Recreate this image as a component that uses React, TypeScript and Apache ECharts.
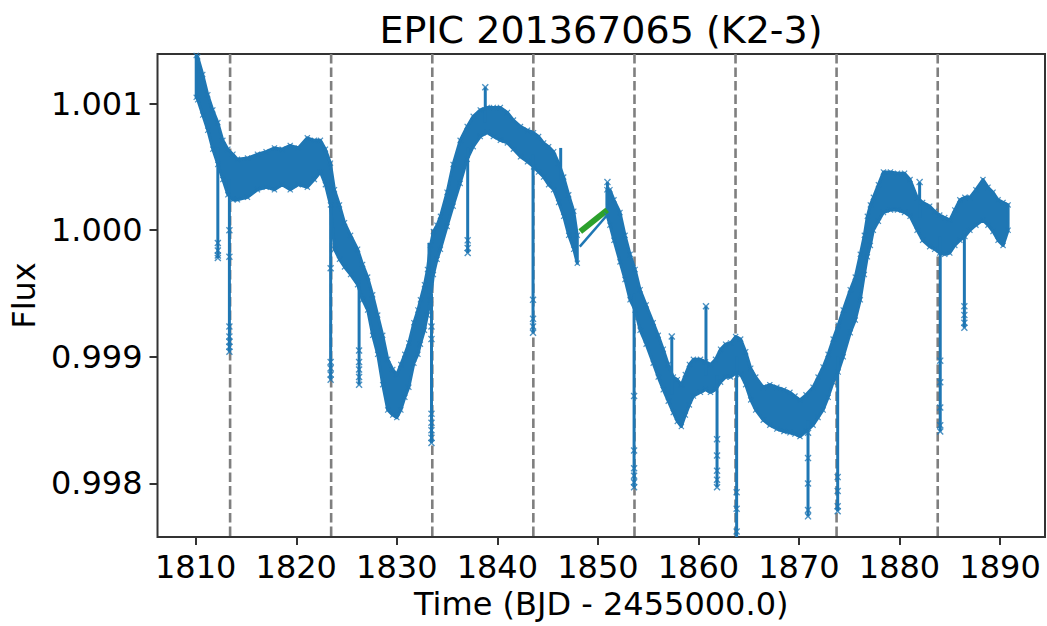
import React, { useEffect, useRef } from "react";
import * as echarts from "echarts";

const FONT = "DejaVu Sans";
const BLUE = "#1f77b4";
const GREEN = "#2ca02c";

const X_MIN = 1806.2;
const X_MAX = 1894.47;
const Y_MIN = 0.997577;
const Y_MAX = 1.001392;

const xTicks = [1810, 1820, 1830, 1840, 1850, 1860, 1870, 1880, 1890];
const yTicks = [0.998, 0.999, 1.0, 1.001];

const transitTimes = [1813.42, 1823.47, 1833.53, 1843.58, 1853.64, 1863.69, 1873.74, 1883.8];

// first continuous stretch of the light curve (band envelope)
const bandTime1 = [
  1810.05, 1810.2, 1810.7, 1811.2, 1811.7, 1812.2, 1812.7, 1813.2, 1813.7, 1814.15,
  1815.15, 1816.14, 1817.0, 1817.83, 1818.6, 1819.4, 1820.2, 1821.1, 1821.8, 1822.4,
  1822.9, 1823.4, 1823.8, 1824.3, 1824.8, 1825.4, 1826.1, 1826.6, 1827.1, 1827.6,
  1828.1, 1828.6, 1829.1, 1829.6, 1830.0, 1830.4, 1830.8, 1831.2, 1831.7, 1832.1,
  1832.35, 1832.75, 1833.05, 1833.35, 1833.64, 1834.0, 1834.34, 1835.0, 1835.6, 1836.3,
  1837.0, 1837.6, 1838.3, 1839.0, 1839.6, 1840.3, 1841.0, 1841.6, 1842.3, 1843.0,
  1843.6, 1844.1, 1844.6, 1845.1, 1845.6, 1846.1, 1846.6, 1847.1, 1847.6, 1847.95,
];
const bandUpper1 = [
  1.00138, 1.00137, 1.00123, 1.00107, 1.00095, 1.00085, 1.00071, 1.00064, 1.0006, 1.00056,
  1.00057, 1.0006, 1.00062, 1.00065, 1.00064, 1.00067, 1.00065, 1.00073, 1.00071, 1.00071,
  1.00064, 1.00053, 1.00032, 1.0002, 1.00006, 0.99996, 0.99985, 0.99973, 0.99963, 0.99949,
  0.99933, 0.99917, 0.99898, 0.9989, 0.99886, 0.99894, 0.99902, 0.99911, 0.99927, 0.99937,
  0.99945, 0.99957, 0.99969, 0.99988, 0.99999, 1.00004, 1.00011, 1.0003, 1.00052, 1.00071,
  1.00082, 1.0009, 1.00095, 1.00097, 1.00097, 1.00097, 1.00093, 1.00087, 1.00082, 1.00079,
  1.00077, 1.00074, 1.00069, 1.00066, 1.00062, 1.00053, 1.00042, 1.00028, 1.00015, 0.99996,
];
const bandLower1 = [
  1.00105, 1.00103, 1.00091, 1.00079, 1.00064, 1.00052, 1.0004, 1.00028, 1.00024, 1.00024,
  1.00026, 1.00032, 1.00034, 1.00032, 1.00036, 1.00032, 1.00036, 1.00034, 1.0004, 1.00046,
  1.00036, 1.0002, 0.99985, 0.99977, 0.99971, 0.99965, 0.99957, 0.99945, 0.99937, 0.99917,
  0.99902, 0.99878, 0.99858, 0.99854, 0.99852, 0.99858, 0.99868, 0.99876, 0.99895, 0.99902,
  0.9991, 0.99921, 0.99933, 0.99945, 0.99965, 0.99977, 0.99985, 1.00003, 1.00019, 1.00037,
  1.00056, 1.00066, 1.00074, 1.00077, 1.00074, 1.00071, 1.00069, 1.00064, 1.00058, 1.00054,
  1.0005, 1.00046, 1.00042, 1.00036, 1.00032, 1.00022, 1.00011, 0.99996, 0.99985, 0.99974,
];

// second continuous stretch
const bandTime2 = [
  1850.9, 1851.2, 1851.6, 1852.2, 1852.7, 1853.2, 1853.7, 1854.2, 1854.8, 1855.5,
  1856.0, 1856.5, 1857.0, 1857.5, 1857.9, 1858.3, 1858.7, 1859.1, 1859.5, 1860.2,
  1860.7, 1861.2, 1861.7, 1862.2, 1862.7, 1863.2, 1863.7, 1864.2, 1864.7, 1865.2,
  1865.7, 1866.45, 1867.1, 1867.8, 1868.5, 1869.1, 1869.6, 1870.1, 1870.7, 1871.4,
  1871.9, 1872.4, 1872.9, 1873.4, 1873.9, 1874.4, 1875.1, 1875.6, 1876.1, 1876.5,
  1876.8, 1877.1, 1877.4, 1877.9, 1878.4, 1879.1, 1879.8, 1880.5, 1881.05, 1881.75,
  1882.3, 1883.0, 1883.5, 1884.0, 1884.5, 1885.0, 1885.5, 1886.0, 1886.5, 1887.0,
  1887.6, 1888.3, 1888.8, 1889.3, 1889.8, 1890.3, 1890.8,
];
const bandUpper2 = [
  1.00032, 1.00032, 1.00024, 1.00014, 0.99996, 0.99981, 0.99969, 0.99953, 0.99941, 0.99927,
  0.99917, 0.99906, 0.99894, 0.99884, 0.99882, 0.99878, 0.99886, 0.99894, 0.99898, 0.99898,
  0.99896, 0.99894, 0.99898, 0.99906, 0.9991, 0.99911, 0.99916, 0.99914, 0.99904, 0.99891,
  0.99884, 0.99876, 0.99878, 0.99876, 0.99874, 0.99872, 0.99869, 0.99866, 0.9987, 0.99876,
  0.99884, 0.99892, 0.99902, 0.99914, 0.99925, 0.99937, 0.99953, 0.99963, 0.99981, 0.99996,
  1.00011, 1.0002, 1.00026, 1.00036, 1.00046, 1.00046, 1.00045, 1.00045, 1.0004, 1.00026,
  1.00022, 1.00019, 1.00015, 1.00012, 1.0001, 1.00008, 1.00016, 1.00024, 1.00026, 1.00026,
  1.00032, 1.0004, 1.00034, 1.0003, 1.00024, 1.00022, 1.0002,
];
const bandLower2 = [
  1.00012, 1.00004, 0.99992, 0.99975, 0.99961, 0.99945, 0.99937, 0.99921, 0.9991, 0.99895,
  0.99884, 0.99874, 0.99865, 0.99856, 0.99849, 0.99845, 0.99854, 0.99862, 0.99869, 0.99872,
  0.99874, 0.99872, 0.99874, 0.9988, 0.99884, 0.99884, 0.99887, 0.99886, 0.99878, 0.99866,
  0.99858, 0.9985, 0.99846, 0.99843, 0.99841, 0.9984, 0.99839, 0.99837, 0.99841, 0.99846,
  0.99852, 0.99858, 0.99868, 0.9988, 0.99888, 0.999, 0.99919, 0.99929, 0.99945, 0.99965,
  0.99979, 0.99988, 1.0, 1.00007, 1.00014, 1.00016, 1.00016, 1.00014, 1.00011, 1.0,
  0.99992, 0.99987, 0.99985, 0.99982, 0.99981, 0.99982, 0.99988, 0.99992, 0.99995, 1.0,
  1.00004, 1.00008, 1.00004, 0.99999, 0.99992, 0.99988, 1.0,
];

// isolated excursions (transits and outliers): time, flux where it leaves the band, extreme flux
const spikeTime = [
  1812.2, 1813.35, 1823.42, 1826.25, 1833.45, 1837.05, 1843.55, 1853.6, 1861.85, 1863.8,
  1870.9, 1873.85, 1884.05, 1886.45, 1838.8, 1846.3, 1850.95, 1857.35, 1860.75, 1882.0, 1833.2,
];
const spikeStart = [
  1.00065, 1.0004, 1.0004, 0.9996, 0.9995, 1.00065, 1.0006, 0.9995, 0.99885, 0.999,
  0.9985, 0.999, 0.99995, 1.0, 1.00085, 1.0004, 1.0002, 0.9987, 0.99885, 1.0001, 0.9995,
];
const spikeEnd = [
  0.99978, 0.99904, 0.99882, 0.99878, 0.99832, 0.99982, 0.99919, 0.99797, 0.99797, 0.9975,
  0.99774, 0.99778, 0.99841, 0.99923, 1.00113, 1.00065, 1.00038, 0.99916, 0.9994, 1.00038, 0.9999,
];

// individual points visible along the excursions
const markerTime = [
  1812.2, 1812.2, 1812.2, 1812.2,
  1813.35, 1813.35, 1813.35, 1813.35, 1813.35, 1813.35, 1813.35,
  1823.42, 1823.42, 1823.42, 1823.42, 1823.42,
  1826.25, 1826.25, 1826.25, 1826.25, 1826.25,
  1833.45, 1833.45, 1833.45, 1833.45, 1833.45, 1833.45, 1833.45,
  1837.05, 1837.05, 1837.05,
  1843.55, 1843.55, 1843.55, 1843.55,
  1853.6, 1853.6, 1853.6, 1853.6, 1853.6, 1853.6,
  1861.85, 1861.85, 1861.85, 1861.85, 1861.85,
  1863.8, 1863.8, 1863.8,
  1870.9, 1870.9, 1870.9, 1870.9, 1870.9,
  1873.85, 1873.85, 1873.85, 1873.85,
  1884.05, 1884.05, 1884.05, 1884.05, 1884.05,
  1886.45, 1886.45, 1886.45, 1886.45,
  1838.8, 1850.95, 1857.35, 1860.75, 1882.0,
];
const markerFlux = [
  0.99978, 0.9998, 0.99984, 0.9999,
  0.99904, 0.99908, 0.99912, 0.99916, 0.99924, 0.99979, 1.0,
  0.99882, 0.99886, 0.99891, 0.99896, 0.9997,
  0.99878, 0.99884, 0.9989, 0.99896, 0.99905,
  0.99832, 0.99836, 0.99842, 0.99848, 0.99855, 0.99914, 0.99924,
  0.99982, 0.99986, 0.99992,
  0.99919, 0.99924, 0.9993, 0.99945,
  0.99797, 0.99801, 0.99806, 0.99812, 0.99826, 0.99869,
  0.99797, 0.99803, 0.9981, 0.99822, 0.99835,
  0.99762, 0.9978, 0.99793,
  0.99774, 0.99779, 0.998, 0.9982, 0.9984,
  0.99778, 0.99782, 0.99794, 0.99805,
  0.99841, 0.99846, 0.9986, 0.9988, 0.99897,
  0.99923, 0.99927, 0.99933, 0.9994,
  1.00113, 1.00038, 0.99916, 0.9994, 1.00038,
];

// straight joins across the data gap
const gapTime = [1848.2, 1850.93];
const gapFlux = [0.99987, 1.00012];
const modelTime = [1848.25, 1850.93];
const modelFlux = [0.99999, 1.00016];

const X_SYMBOL =
  "path://M0,1.4L1.4,0L5,3.6L8.6,0L10,1.4L6.4,5L10,8.6L8.6,10L5,6.4L1.4,10L0,8.6L3.6,5Z";

const bands = [
  { t: bandTime1, up: bandUpper1, lo: bandLower1 },
  { t: bandTime2, up: bandUpper2, lo: bandLower2 },
];

export default function App() {
  const ref = useRef<HTMLDivElement>(null);

  useEffect(() => {
    if (!ref.current) return;
    const chart = echarts.init(ref.current, undefined, { renderer: "svg" });

    const edgePoints: number[][] = [];
    bands.forEach((b) => {
      b.t.forEach((t, i) => {
        edgePoints.push([t, b.up[i]]);
        edgePoints.push([t, b.lo[i]]);
      });
    });
    const markerPoints = markerTime.map((t, i) => [t, markerFlux[i]]);

    const option: any = {
      animation: false,
      grid: {
        left: 157,
        right: 2,
        top: 54,
        bottom: 89,
        show: true,
        borderColor: "#333",
        borderWidth: 2,
        backgroundColor: "transparent",
      },
      graphic: [
        {
          type: "text",
          x: 601,
          y: 30,
          style: {
            text: "EPIC 201367065 (K2-3)",
            fontSize: 38,
            fontFamily: FONT,
            fill: "#000",
            align: "center",
            verticalAlign: "middle",
          },
        },
      ],
      xAxis: {
        type: "value",
        min: X_MIN,
        max: X_MAX,
        name: "Time (BJD - 2455000.0)",
        nameLocation: "middle",
        nameGap: 50,
        nameTextStyle: { fontSize: 32, fontFamily: FONT, color: "#000" },
        axisLine: { show: false },
        splitLine: { show: false },
        axisTick: {
          show: true,
          length: 8,
          customValues: xTicks,
          lineStyle: { color: "#333", width: 2 },
        },
        axisLabel: {
          customValues: xTicks,
          margin: 14,
          fontSize: 32,
          fontFamily: FONT,
          color: "#000",
          formatter: (v: number) => String(Math.round(v)),
        },
      },
      yAxis: {
        type: "value",
        min: Y_MIN,
        max: Y_MAX,
        name: "Flux",
        nameLocation: "middle",
        nameGap: 111,
        nameTextStyle: { fontSize: 32, fontFamily: FONT, color: "#000" },
        axisLine: { show: false },
        splitLine: { show: false },
        axisTick: {
          show: true,
          length: 8,
          customValues: yTicks,
          lineStyle: { color: "#333", width: 2 },
        },
        axisLabel: {
          customValues: yTicks,
          margin: 15,
          fontSize: 32,
          fontFamily: FONT,
          color: "#000",
          formatter: (v: number) => v.toFixed(3),
        },
      },
      series: [
        {
          type: "custom",
          name: "transits",
          z: 1,
          clip: true,
          data: transitTimes.map((t) => [t, Y_MIN]),
          renderItem: (params: any, api: any) => {
            const cs = params.coordSys;
            const x = api.coord([api.value(0), Y_MIN])[0];
            return {
              type: "line",
              shape: { x1: x, y1: cs.y, x2: x, y2: cs.y + cs.height },
              style: { stroke: "#7f7f7f", lineWidth: 2.6, lineDash: [9.5, 4] },
            };
          },
        },
        {
          type: "custom",
          name: "band",
          z: 2,
          clip: true,
          data: bands.map((b, i) => [b.t[0], b.up[0], i]),
          renderItem: (params: any, api: any) => {
            const b = bands[params.dataIndex];
            const pts: number[][] = [];
            for (let i = 0; i < b.t.length; i++) pts.push(api.coord([b.t[i], b.up[i]]));
            for (let i = b.t.length - 1; i >= 0; i--) pts.push(api.coord([b.t[i], b.lo[i]]));
            return {
              type: "polygon",
              shape: { points: pts },
              style: { fill: BLUE, stroke: BLUE, lineWidth: 3, lineJoin: "round" },
            };
          },
        },
        {
          type: "custom",
          name: "excursions",
          z: 3,
          clip: true,
          data: spikeTime.map((t, i) => [t, spikeStart[i], spikeEnd[i]]),
          encode: { x: 0, y: [1, 2] },
          renderItem: (params: any, api: any) => {
            const a = api.coord([api.value(0), api.value(1)]);
            const b = api.coord([api.value(0), api.value(2)]);
            return {
              type: "line",
              shape: { x1: a[0], y1: a[1], x2: b[0], y2: b[1] },
              style: { stroke: BLUE, lineWidth: 3 },
            };
          },
        },
        {
          type: "line",
          name: "gap",
          z: 3,
          symbol: "none",
          data: gapTime.map((t, i) => [t, gapFlux[i]]),
          lineStyle: { color: BLUE, width: 2.5 },
        },
        {
          type: "line",
          name: "model",
          z: 3,
          symbol: "none",
          data: modelTime.map((t, i) => [t, modelFlux[i]]),
          lineStyle: { color: GREEN, width: 6 },
        },
        {
          type: "scatter",
          name: "edge",
          z: 4,
          symbol: X_SYMBOL,
          symbolSize: 6,
          itemStyle: { color: BLUE },
          data: edgePoints,
        },
        {
          type: "scatter",
          name: "points",
          z: 4,
          symbol: X_SYMBOL,
          symbolSize: 7,
          itemStyle: { color: BLUE },
          data: markerPoints,
        },
      ],
    };

    chart.setOption(option);
    return () => chart.dispose();
  }, []);

  return (
    <div
      ref={ref}
      style={{ position: "fixed", left: 0, top: 0, width: 1047, height: 626, background: "#fff" }}
    />
  );
}
